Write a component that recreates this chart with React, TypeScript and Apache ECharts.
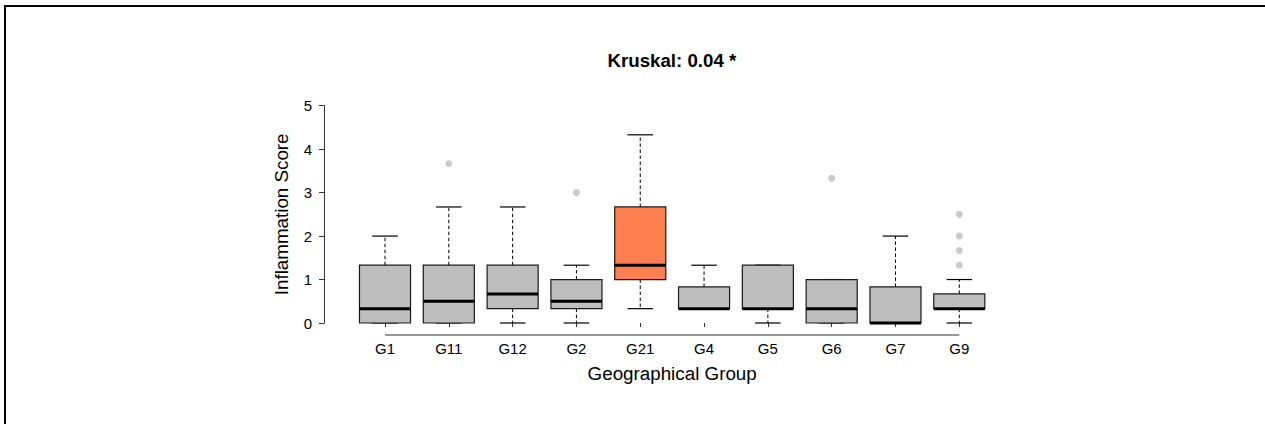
import React, { useEffect, useRef } from "react";
import * as echarts from "echarts";

// Inflammation score distribution per geographical group
const categories = ["G1", "G11", "G12", "G2", "G21", "G4", "G5", "G6", "G7", "G9"];
const whiskerLow = [0, 0, 0, 0, 0.33, 0.33, 0, 0, 0, 0];
const quartile1 = [0, 0, 0.33, 0.33, 1, 0.33, 0.33, 0, 0, 0.33];
const medians = [0.33, 0.5, 0.67, 0.5, 1.33, 0.33, 0.33, 0.33, 0, 0.33];
const quartile3 = [1.33, 1.33, 1.33, 1, 2.67, 0.83, 1.33, 1, 0.83, 0.67];
const whiskerHigh = [2, 2.67, 2.67, 1.33, 4.33, 1.33, 1.33, 1, 2, 1];
// [group, score] for points beyond the whiskers
const outlierGroups = ["G11", "G2", "G6", "G9", "G9", "G9", "G9"];
const outlierValues = [3.67, 3, 3.33, 1.33, 1.67, 2, 2.5];
const yTicks = [0, 1, 2, 3, 4, 5];

const titleText = "Kruskal: 0.04 *";
const highlightGroup = "G21";

const FONT = "'Liberation Sans', Arial, Helvetica, sans-serif";
const BOX_FILL = "#BEBEBE";
const HIGHLIGHT_FILL = "#FF7F50";
const X_AXIS_OFFSET = 12;

export default function App() {
  const ref = useRef<HTMLDivElement>(null);

  useEffect(() => {
    if (!ref.current) return;
    const chart = echarts.init(ref.current, null, { renderer: "svg" });

    const boxData = categories.map((_, i) => [
      i,
      whiskerLow[i],
      quartile1[i],
      medians[i],
      quartile3[i],
      whiskerHigh[i],
    ]);
    const outlierData = outlierGroups.map((g, i) => [categories.indexOf(g), outlierValues[i]]);

    const option: any = {
      animation: false,
      backgroundColor: "#ffffff",
      title: {
        text: titleText,
        left: 607.5,
        top: 51,
        padding: 0,
        textStyle: { fontFamily: FONT, fontSize: 18.7, fontWeight: "bold", color: "#000" },
      },
      grid: { left: 353.1, right: 273.8, top: 105.7, bottom: 101, containLabel: false },
      xAxis: {
        type: "category",
        data: categories,
        boundaryGap: true,
        offset: X_AXIS_OFFSET,
        axisLine: { show: false },
        axisTick: { show: true, alignWithLabel: true, length: 4, lineStyle: { color: "#333", width: 1 } },
        axisLabel: { color: "#000", fontFamily: FONT, fontSize: 15, margin: 6 },
        splitLine: { show: false },
        name: "Geographical Group",
        nameLocation: "middle",
        nameGap: 29,
        nameTextStyle: { color: "#000", fontFamily: FONT, fontSize: 18.8 },
      },
      yAxis: {
        type: "value",
        min: yTicks[0],
        max: yTicks[yTicks.length - 1],
        interval: 1,
        offset: 29.1,
        axisLine: { show: true, lineStyle: { color: "#333", width: 1 } },
        axisTick: { show: true, length: 5, lineStyle: { color: "#333", width: 1 } },
        axisLabel: { color: "#000", fontFamily: FONT, fontSize: 15, margin: 12 },
        splitLine: { show: false },
        name: "Inflammation Score",
        nameLocation: "middle",
        nameGap: 33,
        nameTextStyle: { color: "#000", fontFamily: FONT, fontSize: 18.8 },
      },
      series: [
        {
          type: "custom",
          data: boxData,
          encode: { x: 0, y: [1, 2, 3, 4, 5] },
          renderItem: (params: any, api: any) => {
            const idx = api.value(0);
            const lo = api.value(1);
            const q1 = api.value(2);
            const med = api.value(3);
            const q3 = api.value(4);
            const hi = api.value(5);
            const cx = api.coord([idx, 0])[0];
            const band = api.size([1, 0])[0];
            const boxW = band * 0.8;
            const capW = boxW / 2;
            const py = (v: number) => api.coord([idx, v])[1];
            const fill = categories[idx] === highlightGroup ? HIGHLIGHT_FILL : BOX_FILL;
            const dash = { stroke: "#000", lineWidth: 1, lineDash: [3.5, 2.5] };
            const cap = { stroke: "#000", lineWidth: 1.2 };
            return {
              type: "group",
              children: [
                { type: "line", shape: { x1: cx, y1: py(q3), x2: cx, y2: py(hi) }, style: dash },
                { type: "line", shape: { x1: cx, y1: py(q1), x2: cx, y2: py(lo) }, style: dash },
                { type: "line", shape: { x1: cx - capW / 2, y1: py(hi), x2: cx + capW / 2, y2: py(hi) }, style: cap },
                { type: "line", shape: { x1: cx - capW / 2, y1: py(lo), x2: cx + capW / 2, y2: py(lo) }, style: cap },
                {
                  type: "rect",
                  shape: { x: cx - boxW / 2, y: py(q3), width: boxW, height: py(q1) - py(q3) },
                  style: { fill, stroke: "#1a1a1a", lineWidth: 1.2 },
                },
                {
                  type: "line",
                  shape: { x1: cx - boxW / 2, y1: py(med), x2: cx + boxW / 2, y2: py(med) },
                  style: { stroke: "#000", lineWidth: 3 },
                },
              ],
            };
          },
          z: 2,
        },
        {
          type: "scatter",
          data: outlierData,
          symbol: "circle",
          symbolSize: 7,
          itemStyle: { color: BOX_FILL },
          z: 3,
        },
      ],
    };
    chart.setOption(option);

    // Axis line for the groups runs from the first to the last category, as in base R plots
    const xStart = chart.convertToPixel({ xAxisIndex: 0 }, categories[0]) as number;
    const xEnd = chart.convertToPixel({ xAxisIndex: 0 }, categories[categories.length - 1]) as number;
    const yBase = (chart.convertToPixel({ yAxisIndex: 0 }, yTicks[0]) as number) + X_AXIS_OFFSET;

    chart.setOption({
      graphic: [
        {
          id: "frame",
          type: "rect",
          shape: { x: 5, y: 6, width: 1400, height: 600 },
          style: { fill: "none", stroke: "#000", lineWidth: 2 },
          silent: true,
        },
        {
          id: "xaxisline",
          type: "line",
          shape: { x1: xStart, y1: yBase, x2: xEnd, y2: yBase },
          style: { stroke: "#333", lineWidth: 1 },
          silent: true,
        },
      ],
    });

    return () => chart.dispose();
  }, []);

  return (
    <div
      ref={ref}
      style={{ position: "fixed", left: 0, top: 0, width: 1265, height: 424, background: "#fff" }}
    />
  );
}
